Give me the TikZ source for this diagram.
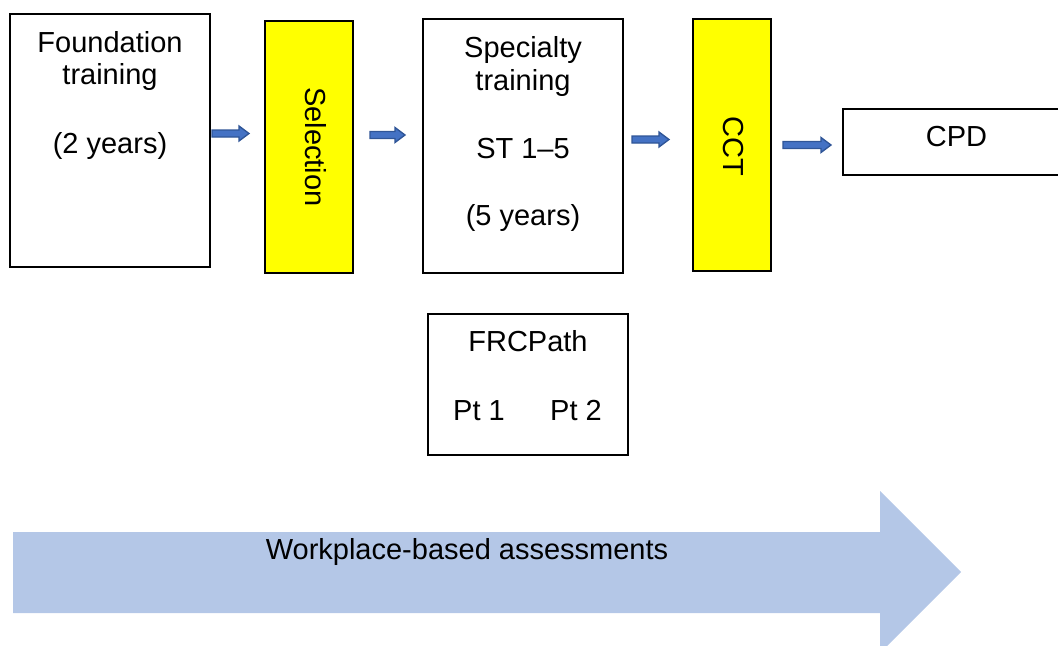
\documentclass[tikz,border=0pt]{standalone}
\usepackage{fontspec}
\setmainfont{Liberation Sans}
\definecolor{arrowfill}{HTML}{4472C4}
\definecolor{arrowedge}{HTML}{2F5597}
\definecolor{bigarrow}{HTML}{B4C7E7}
\definecolor{boxyellow}{HTML}{FFFF00}
\tikzset{
  box/.style={draw=black, line width=0.8pt, fill=white, inner sep=0pt},
  ybox/.style={box, fill=boxyellow},
  lbl/.style={font=\fontsize{21.75}{26}\selectfont, inner sep=0pt, anchor=base},
  vlbl/.style={font=\fontsize{21.75}{26}\selectfont, inner sep=0pt, anchor=center, rotate=-90},
  blockarrow/.style={fill=arrowfill, draw=arrowedge, line width=1pt, line join=miter},
}
% block arrow: #1 = x start, #2 = x tip, #3 = y center
\newcommand\myblockarrow[3]{%
  \filldraw[blockarrow] (#1,#3-3.5) -- (#2-10,#3-3.5) -- (#2-10,#3-7.5) -- (#2,#3)
    -- (#2-10,#3+7.5) -- (#2-10,#3+3.5) -- (#1,#3+3.5) -- cycle;}
\begin{document}
\begin{tikzpicture}[x=0.75pt,y=-0.75pt]
\useasboundingbox (0,0) rectangle (1058,646);
\clip (0,0) rectangle (1058,646);
% big arrow
\fill[bigarrow] (13,532) -- (880,532) -- (880,491) -- (961,572) -- (880,653)
  -- (880,613) -- (13,613) -- cycle;
\node[lbl] (wba) at (467,559) {Workplace-based assessments};
% boxes
\path[box] (10,14) rectangle (210,267);
\path[ybox] (265,21) rectangle (353,273);
\path[box] (423,19) rectangle (623,273);
\path[ybox] (693,19) rectangle (771,271);
\path[box] (843,109) rectangle (1070,175);
\path[box] (428,314) rectangle (628,455);
% texts
\node[lbl] (f1) at (110,52) {Foundation};
\node[lbl] (f2) at (110,84) {training};
\node[lbl] (f3) at (110,153) {(2 years)};
\node[vlbl] (seltxt) at (316,147) {Selection};
\node[lbl] (s1) at (523,57) {Specialty};
\node[lbl] (s2) at (523,90) {training};
\node[lbl] (s3) at (523,158) {ST 1–5};
\node[lbl] (s4) at (523,225) {(5 years)};
\node[vlbl] (ccttxt) at (733,146.5) {CCT};
\node[lbl] (cpd) at (956.5,146.5) {CPD};
\node[lbl] (frc) at (528,351) {FRCPath};
\node[lbl] (pt1) at (479,420) {Pt 1};
\node[lbl] (pt2) at (576,420) {Pt 2};
% small block arrows
\myblockarrow{212}{249}{133.5}
\myblockarrow{370}{405}{135}
\myblockarrow{632}{669}{139.5}
\myblockarrow{783}{831}{145}
\end{tikzpicture}
\end{document}
